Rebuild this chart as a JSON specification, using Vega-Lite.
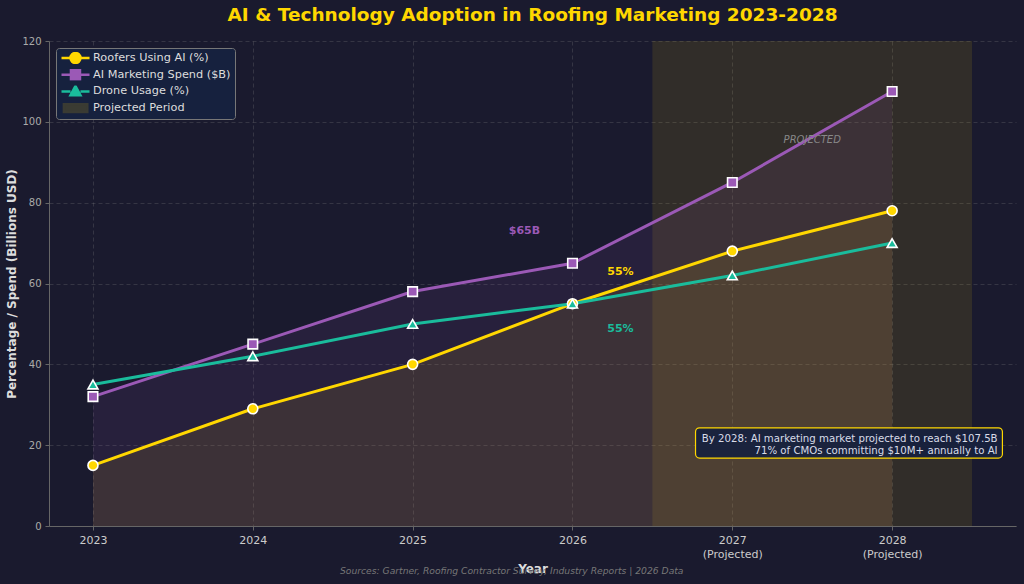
{
  "$schema": "https://vega.github.io/schema/vega-lite/v6.json",
  "width": 967,
  "height": 485,
  "autosize": "none",
  "padding": {"left": 49, "top": 41, "right": 8, "bottom": 58},
  "background": "#1a1a2e",
  "title": {
    "text": "AI & Technology Adoption in Roofing Marketing 2023-2028",
    "color": "#FFD700",
    "fontSize": 18.5,
    "fontWeight": "bold",
    "font": "DejaVu Sans",
    "anchor": "middle",
    "offset": 12
  },
  "datasets": {
    "adoption": [
      {"year": 2023, "series": "Roofers Using AI (%)", "value": 15},
      {"year": 2024, "series": "Roofers Using AI (%)", "value": 29},
      {"year": 2025, "series": "Roofers Using AI (%)", "value": 40},
      {"year": 2026, "series": "Roofers Using AI (%)", "value": 55},
      {"year": 2027, "series": "Roofers Using AI (%)", "value": 68},
      {"year": 2028, "series": "Roofers Using AI (%)", "value": 78},
      {"year": 2023, "series": "AI Marketing Spend ($B)", "value": 32},
      {"year": 2024, "series": "AI Marketing Spend ($B)", "value": 45},
      {"year": 2025, "series": "AI Marketing Spend ($B)", "value": 58},
      {"year": 2026, "series": "AI Marketing Spend ($B)", "value": 65},
      {"year": 2027, "series": "AI Marketing Spend ($B)", "value": 85},
      {"year": 2028, "series": "AI Marketing Spend ($B)", "value": 107.5},
      {"year": 2023, "series": "Drone Usage (%)", "value": 35},
      {"year": 2024, "series": "Drone Usage (%)", "value": 42},
      {"year": 2025, "series": "Drone Usage (%)", "value": 50},
      {"year": 2026, "series": "Drone Usage (%)", "value": 55},
      {"year": 2027, "series": "Drone Usage (%)", "value": 62},
      {"year": 2028, "series": "Drone Usage (%)", "value": 70}
    ],
    "period": [{"start": 2026.5, "end": 2028.5}]
  },
  "layer": [
    {
      "data": {"name": "period"},
      "mark": {"type": "rect", "color": "#FFD700", "opacity": 0.1},
      "encoding": {
        "x": {"field": "start", "type": "quantitative", "scale": {"domain": [2022.725, 2028.775], "nice": false, "zero": false}},
        "x2": {"field": "end"},
        "y": {"datum": 0, "type": "quantitative", "scale": {"domain": [0, 120], "nice": false}},
        "y2": {"datum": 120}
      }
    },
    {
      "data": {"name": "adoption"},
      "transform": [{"filter": "datum.series !== 'Drone Usage (%)'"}],
      "mark": {"type": "area", "opacity": 0.1},
      "encoding": {
        "x": {"field": "year", "type": "quantitative"},
        "y": {"field": "value", "type": "quantitative", "stack": null},
        "color": {"field": "series", "type": "nominal"}
      }
    },
    {
      "data": {"name": "adoption"},
      "mark": {"type": "line", "strokeWidth": 3},
      "encoding": {
        "x": {
          "field": "year",
          "type": "quantitative",
          "scale": {"domain": [2022.725, 2028.775], "nice": false, "zero": false},
          "axis": {
            "title": "Year",
            "grid": true,
            "values": [2023, 2024, 2025, 2026, 2027, 2028],
            "format": "d",
            "labelExpr": "datum.value >= 2027 ? [datum.label, '(Projected)'] : datum.label",
            "labelLineHeight": 14,
            "labelFontSize": 11,
            "labelColor": "#cccccc",
            "titlePadding": 4
          }
        },
        "y": {
          "field": "value",
          "type": "quantitative",
          "scale": {"domain": [0, 120], "nice": false},
          "axis": {
            "title": "Percentage / Spend (Billions USD)",
            "grid": true,
            "values": [0, 20, 40, 60, 80, 100, 120],
            "titlePadding": 3
          }
        },
        "color": {
          "field": "series",
          "type": "nominal",
          "scale": {
            "domain": ["Roofers Using AI (%)", "AI Marketing Spend ($B)", "Drone Usage (%)", "Projected Period"],
            "range": ["#FFD700", "#9B59B6", "#1ABC9C", "#3a3b33"]
          },
          "legend": {
            "title": null,
            "orient": "top-left",
            "offset": 7,
            "fillColor": "#16213e",
            "strokeColor": "#777777",
            "cornerRadius": 3,
            "padding": 4,
            "rowPadding": 4.7,
            "clipHeight": 12,
            "labelColor": "#dddddd",
            "labelFontSize": 11.3,
            "labelFont": "DejaVu Sans",
            "labelOffset": 18,
            "symbolSize": 144,
            "encode": {
              "symbols": {
                "update": {
                  "fill": {"scale": "color", "field": "value"},
                  "stroke": {"scale": "color", "field": "value"},
                  "strokeWidth": {"value": 2.5},
                  "opacity": {"value": 1},
                  "fillOpacity": {"value": 1},
                  "strokeOpacity": {"value": 1}
                }
              }
            }
          }
        }
      }
    },
    {
      "data": {"name": "adoption"},
      "transform": [{"filter": "false"}],
      "mark": {"type": "point", "filled": true},
      "encoding": {
        "x": {"field": "year", "type": "quantitative"},
        "y": {"field": "value", "type": "quantitative"},
        "color": {"field": "series", "type": "nominal"},
        "shape": {
          "field": "series",
          "type": "nominal",
          "scale": {
            "domain": ["Roofers Using AI (%)", "AI Marketing Spend ($B)", "Drone Usage (%)", "Projected Period"],
            "range": [
              "M-1,0H0.5M2.16,0H3.67M2.16,0A0.83,0.83,0,1,1,0.5,0A0.83,0.83,0,1,1,2.16,0Z",
              "M-1,0H0.58M2.08,0H3.67M0.58,-0.75H2.08V0.75H0.58Z",
              "M-1,0H0.5M2.16,0H3.67M1.33,-0.9L2.16,0.65H0.5Z",
              "M-0.6,-0.65H3.3V0.65H-0.6Z"
            ]
          }
        }
      }
    },
    {
      "data": {"name": "adoption"},
      "transform": [{"filter": "datum.series === 'Roofers Using AI (%)'"}],
      "mark": {"type": "point", "shape": "circle", "filled": true, "fill": "#FFD700", "stroke": "white", "strokeWidth": 1.6, "size": 100, "opacity": 1},
      "encoding": {
        "x": {"field": "year", "type": "quantitative"},
        "y": {"field": "value", "type": "quantitative"}
      }
    },
    {
      "data": {"name": "adoption"},
      "transform": [{"filter": "datum.series === 'AI Marketing Spend ($B)'"}],
      "mark": {"type": "point", "shape": "square", "filled": true, "fill": "#9B59B6", "stroke": "white", "strokeWidth": 1.6, "size": 90, "opacity": 1},
      "encoding": {
        "x": {"field": "year", "type": "quantitative"},
        "y": {"field": "value", "type": "quantitative"}
      }
    },
    {
      "data": {"name": "adoption"},
      "transform": [{"filter": "datum.series === 'Drone Usage (%)'"}],
      "mark": {"type": "point", "shape": "triangle-up", "filled": true, "fill": "#1ABC9C", "stroke": "white", "strokeWidth": 1.6, "size": 100, "opacity": 1},
      "encoding": {
        "x": {"field": "year", "type": "quantitative"},
        "y": {"field": "value", "type": "quantitative"}
      }
    },
    {
      "data": {"name": "adoption"},
      "transform": [{"filter": "datum.series === 'AI Marketing Spend ($B)' && datum.year === 2026"}],
      "mark": {"type": "text", "font": "DejaVu Sans", "fontWeight": "bold", "fontSize": 11, "color": "#9B59B6", "dx": -48, "dy": -32, "clip": false},
      "encoding": {
        "x": {"field": "year", "type": "quantitative"},
        "y": {"field": "value", "type": "quantitative"},
        "text": {"value": "$65B"}
      }
    },
    {
      "data": {"name": "adoption"},
      "transform": [{"filter": "datum.series === 'Roofers Using AI (%)' && datum.year === 2026"}],
      "mark": {"type": "text", "font": "DejaVu Sans", "fontWeight": "bold", "fontSize": 11, "color": "#FFD700", "dx": 48, "dy": -32, "clip": false},
      "encoding": {
        "x": {"field": "year", "type": "quantitative"},
        "y": {"field": "value", "type": "quantitative"},
        "text": {"value": "55%"}
      }
    },
    {
      "data": {"name": "adoption"},
      "transform": [{"filter": "datum.series === 'Drone Usage (%)' && datum.year === 2026"}],
      "mark": {"type": "text", "font": "DejaVu Sans", "fontWeight": "bold", "fontSize": 11, "color": "#1ABC9C", "dx": 48, "dy": 25, "clip": false},
      "encoding": {
        "x": {"field": "year", "type": "quantitative"},
        "y": {"field": "value", "type": "quantitative"},
        "text": {"value": "55%"}
      }
    },
    {
      "data": {"values": [{}]},
      "mark": {"type": "text", "font": "DejaVu Sans", "fontStyle": "italic", "fontSize": 10, "color": "#888888", "clip": false},
      "encoding": {
        "x": {"datum": 2027.5, "type": "quantitative"},
        "y": {"datum": 95.6, "type": "quantitative"},
        "text": {"value": "PROJECTED"}
      }
    },
    {
      "data": {"values": [{}]},
      "mark": {"type": "rect", "fill": "#16213e", "fillOpacity": 0.92, "stroke": "#FFD700", "strokeWidth": 1.2, "cornerRadius": 4, "clip": false},
      "encoding": {
        "x": {"datum": 2026.77, "type": "quantitative"},
        "x2": {"datum": 2028.69},
        "y": {"datum": 24.3, "type": "quantitative"},
        "y2": {"datum": 16.8}
      }
    },
    {
      "data": {"values": [{}]},
      "mark": {"type": "text", "font": "DejaVu Sans", "fontSize": 10.2, "color": "#d8dce8", "align": "right", "baseline": "middle", "lineHeight": 12, "clip": false},
      "encoding": {
        "x": {"datum": 2028.66, "type": "quantitative"},
        "y": {"datum": 21.6, "type": "quantitative"},
        "text": {"value": ["By 2028: AI marketing market projected to reach $107.5B", "71% of CMOs committing $10M+ annually to AI"]}
      }
    },
    {
      "data": {"values": [{}]},
      "mark": {"type": "text", "font": "DejaVu Sans", "fontStyle": "italic", "fontSize": 9.2, "color": "#777777", "clip": false},
      "encoding": {
        "x": {"datum": 2025.62, "type": "quantitative"},
        "y": {"datum": -11.1, "type": "quantitative"},
        "text": {"value": "Sources: Gartner, Roofing Contractor Survey, Industry Reports | 2026 Data"}
      }
    }
  ],
  "config": {
    "font": "DejaVu Sans",
    "view": {"stroke": null},
    "axis": {
      "labelColor": "#aaaaaa",
      "labelFontSize": 10,
      "labelFont": "DejaVu Sans",
      "titleColor": "#dddddd",
      "titleFontSize": 12,
      "titleFontWeight": "bold",
      "titleFont": "DejaVu Sans",
      "domainColor": "#666666",
      "tickColor": "#666666",
      "tickSize": 4,
      "gridColor": "#888888",
      "gridOpacity": 0.25,
      "gridDash": [4, 3],
      "labelPadding": 4
    }
  }
}
